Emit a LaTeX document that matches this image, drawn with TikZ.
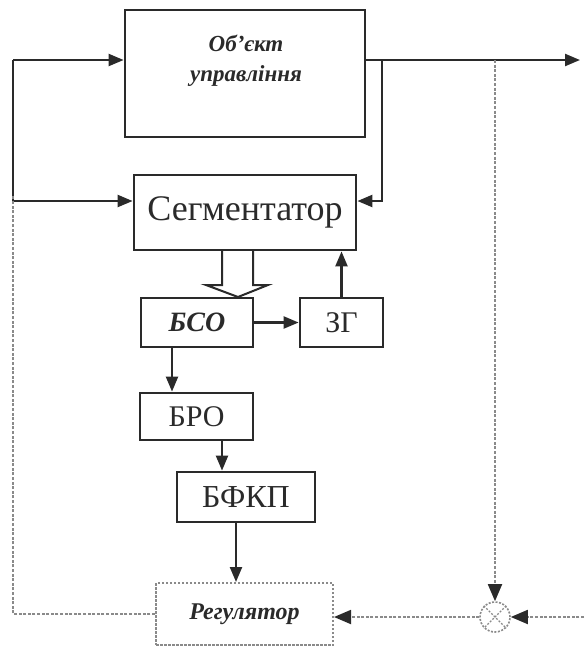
\documentclass[tikz,border=0pt]{standalone}
\usepackage{fontspec}
\setmainfont{Liberation Serif}
\usetikzlibrary{arrows.meta,calc}
\definecolor{ink}{HTML}{2A2A2A}
\definecolor{dots}{HTML}{8A8A8A}
\tikzset{
  blk/.style={draw=ink, line width=2.8pt, inner sep=0pt},
  con/.style={draw=ink, line width=2.3pt},
  arr/.style={con, -{Triangle[length=15pt,width=12pt]}},
  dotl/.style={draw=dots, line width=1.8pt, dash pattern=on 3pt off 1.6pt},
  darr/.style={dotl, -{Triangle[length=17pt,width=14pt,color=ink]}},
}
\begin{document}
\begin{tikzpicture}[x=1pt,y=-1pt]
\useasboundingbox (0,0) rectangle (584,648);
% blocks
\node[blk, minimum width=240pt, minimum height=127pt] (obj) at (245,73.5) {};
\node[align=center, text=ink, font=\fontsize{23}{30}\selectfont\bfseries\itshape] (objt) at (246,61) {Об'єкт\\управління};
\node[blk, minimum width=222pt, minimum height=75pt, text=ink, font=\fontsize{36}{40}\selectfont] (segm) at (245,212.5) {Сегментатор};
\node[blk, minimum width=112pt, minimum height=49pt, text=ink, font=\fontsize{28}{30}\selectfont\bfseries\itshape] (bso) at (197,322.5) {БСО};
\node[blk, minimum width=83pt, minimum height=49pt, text=ink, font=\fontsize{30}{32}\selectfont] (zg) at (341.5,322.5) {ЗГ};
\node[blk, minimum width=113pt, minimum height=47pt, text=ink, font=\fontsize{30}{32}\selectfont] (bro) at (196.5,416.5) {БРО};
\node[blk, minimum width=138pt, minimum height=50pt, text=ink, font=\fontsize{32}{34}\selectfont] (bfkp) at (246,497) {БФКП};
\node[dotl, line width=2pt, dash pattern=on 2.5pt off 1.5pt, minimum width=177pt, minimum height=62pt, inner sep=0pt, text=ink, font=\fontsize{24}{26}\selectfont\bfseries\itshape] (reg) at (244.5,614) {Регулятор};
\node[circle, dotl, line width=1.6pt, dash pattern=on 2pt off 1.5pt, minimum size=30pt, inner sep=0pt] (circ) at (495,617) {};
\draw[dotl, line width=1.3pt, dash pattern=on 2pt off 1.5pt] (circ.north west) -- (circ.south east) (circ.north east) -- (circ.south west);
% helper coordinates
\coordinate (outend) at (580,60);
\coordinate (br) at (382,60);
\coordinate (brb) at (382,201);
\coordinate (lt) at (13,60);
\coordinate (lb) at (13,201);
\coordinate (dv) at (495,60);
\coordinate (rin) at (584,617);
\coordinate (sa) at (222,250);
\coordinate (sb) at (253,250);
\coordinate (ha) at (222,285);
\coordinate (hb) at (253,285);
\coordinate (hl) at (206,285);
\coordinate (hr) at (268,285);
\coordinate (tip) at (238,297);
% solid connectors
\draw[arr] (obj.east |- outend) -- (outend);
\draw[arr] (br) -- (brb) -- (segm.east |- brb);
\draw[con] (lb) -- (lt);
\draw[arr] (lt) -- (obj.west |- lt);
\draw[arr] (lb) -- (segm.west |- lb);
% hollow double arrow
\draw[draw=ink, line width=2pt, line join=miter] (sa) -- (ha) -- (hl) -- (tip) -- (hr) -- (hb) -- (sb);
\draw[arr] (bso.east) -- (zg.west);
\draw[arr] (zg.north) -- (zg.north |- segm.south);
\draw[arr] ([xshift=-25pt]bso.south) -- ([xshift=-25pt]bso.south |- bro.north);
\draw[arr] ([xshift=25.5pt]bro.south) -- ([xshift=25.5pt]bro.south |- bfkp.north);
\draw[arr] ([xshift=-10pt]bfkp.south) -- ([xshift=-10pt]bfkp.south |- reg.north);
% dotted connectors
\draw[dotl] (reg.west) -- (reg.west -| lb) -- ([yshift=6pt]lb);
\draw[darr] (dv) -- (circ.north);
\draw[darr] (rin) -- (circ.east);
\draw[darr] (circ.west) -- (reg.east |- circ.west);
\end{tikzpicture}
\end{document}
